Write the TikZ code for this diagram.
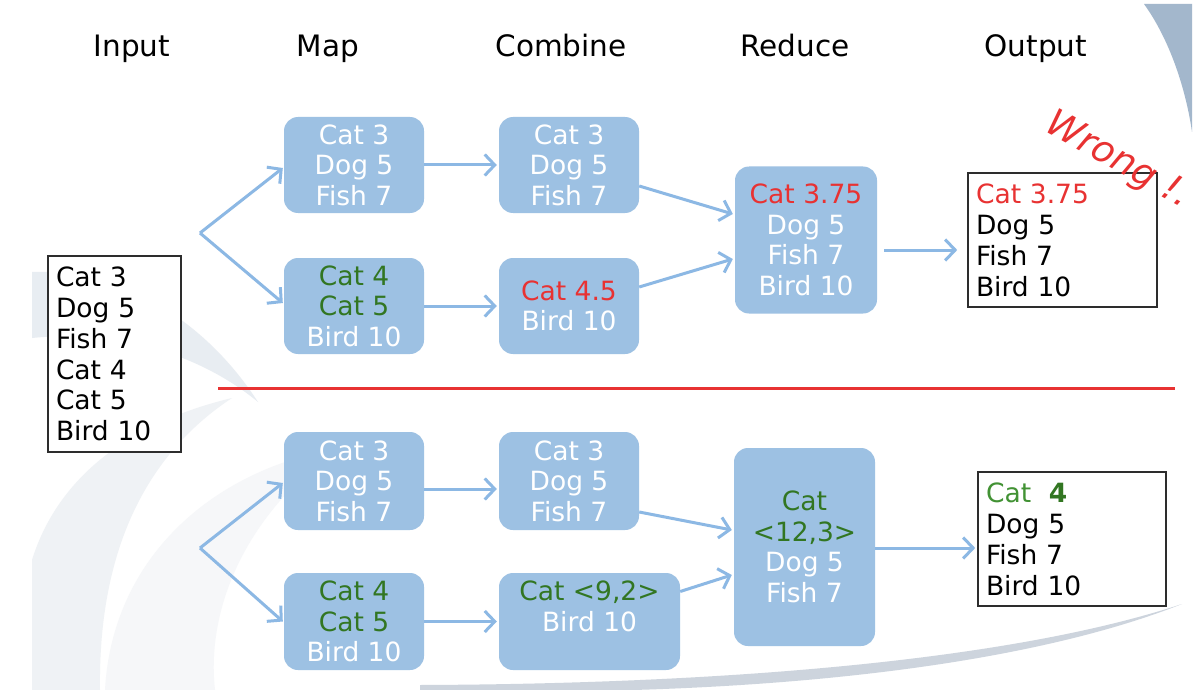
\documentclass[tikz,border=0pt]{standalone}
\usepackage{fontspec}
\setmainfont{DejaVu Sans}
\usetikzlibrary{arrows.meta,calc}
\definecolor{boxblue}{RGB}{157,193,227}
\definecolor{arrblue}{RGB}{140,184,228}
\definecolor{wred}{RGB}{232,50,50}
\definecolor{dgreen}{RGB}{50,118,34}
\definecolor{lgreen}{RGB}{66,146,52}
\definecolor{swA}{RGB}{232,237,242}
\definecolor{swB}{RGB}{239,242,245}
\definecolor{swC}{RGB}{246,247,249}
\definecolor{swD}{RGB}{205,212,221}
\definecolor{swTop}{RGB}{163,183,204}
\definecolor{frame}{RGB}{45,45,45}
\begin{document}
\begin{tikzpicture}[x=1pt,y=-1pt,
  bbox/.style={draw=none, fill=boxblue, rounded corners=14pt, text=white, align=center,
    inner sep=0pt, font=\fontsize{26.5}{30.5}\selectfont},
  wbox/.style={draw=frame, line width=1.6pt, fill=white, text=black, align=left,
    inner xsep=8pt, inner ysep=0pt, font=\fontsize{26.5}{31}\selectfont},
  hdr/.style={font=\fontsize{29.5}{34}\selectfont, anchor=base, inner sep=0pt},
  arr/.style={draw=arrblue, line width=3pt, -{Straight Barb[length=10pt,width=21pt]}},
  sep/.style={draw=wred, line width=3pt},
  wrong/.style={text=wred, font=\fontsize{37}{41}\selectfont\itshape, rotate=-29, inner sep=0pt}
]
\useasboundingbox (0,0) rectangle (1200,690);
\fill[white] (0,0) rectangle (1200,690);

% background swooshes
\fill[swTop] (1144,4) .. controls (1170,40) and (1186,90) .. (1192,132) -- (1192,4) -- cycle;
\fill[swA] (32,272) .. controls (120,268) and (205,320) .. (258,402) .. controls (195,350) and (110,330) .. (32,338) -- cycle;
\fill[swB] (32,690) -- (32,560) .. controls (60,470) and (140,420) .. (232,398) .. controls (150,452) and (98,545) .. (100,690) -- cycle;
\fill[swC] (105,690) .. controls (112,560) and (210,470) .. (340,448) .. controls (255,505) and (205,600) .. (215,690) -- cycle;
\fill[swD] (420,690) .. controls (700,698) and (1000,676) .. (1182,604) .. controls (1000,664) and (700,684) .. (420,685) -- cycle;

% headers
\node[hdr] (hIn)  at (132,57) {Input};
\node[hdr] (hMap) at (328,57) {Map};
\node[hdr] (hCom) at (561,57) {Combine};
\node[hdr] (hRed) at (795,57) {Reduce};
\node[hdr] (hOut) at (1036,57) {Output};

% input
\node[wbox, text width=117pt, minimum height=196pt, font=\fontsize{26.5}{30.8}\selectfont] (inp) at (114.5,354)
  {Cat 3\\Dog 5\\Fish 7\\Cat 4\\Cat 5\\Bird 10};

% top half
\node[bbox, minimum width=140pt, minimum height=96pt] (mapT1) at (354,165) {Cat 3\\Dog 5\\Fish 7};
\node[bbox, minimum width=140pt, minimum height=96pt] (mapT2) at (354,306)
  {\textcolor{dgreen}{Cat 4}\\\textcolor{dgreen}{Cat 5}\\Bird 10};
\node[bbox, minimum width=140pt, minimum height=96pt] (comT1) at (569,165) {Cat 3\\Dog 5\\Fish 7};
\node[bbox, minimum width=140pt, minimum height=96pt] (comT2) at (569,306)
  {\textcolor{wred}{Cat 4.5}\\Bird 10};
\node[bbox, minimum width=142pt, minimum height=147pt] (redT) at (806,240)
  {\textcolor{wred}{Cat 3.75}\\Dog 5\\Fish 7\\Bird 10};
\node[wbox, text width=173pt, minimum height=134pt] (outT) at (1062.5,240)
  {\textcolor{wred}{Cat 3.75}\\Dog 5\\Fish 7\\Bird 10};
\node[wrong] (wrong) at (1118,161) {Wrong !.};

% separator
\coordinate (sepL) at (218,388);
\coordinate (sepR) at (1175,388);
\draw[sep] (sepL) -- (sepR);

% bottom half
\node[bbox, minimum width=140pt, minimum height=98pt] (mapB1) at (354,481) {Cat 3\\Dog 5\\Fish 7};
\node[bbox, minimum width=140pt, minimum height=97pt] (mapB2) at (354,621.5)
  {\textcolor{dgreen}{Cat 4}\\\textcolor{dgreen}{Cat 5}\\Bird 10};
\node[bbox, minimum width=140pt, minimum height=98pt] (comB1) at (569,481) {Cat 3\\Dog 5\\Fish 7};
\node[bbox, minimum width=181pt, minimum height=97pt] (comB2) at (589.5,621.5)
  {\textcolor{dgreen}{Cat <9,2>}\\Bird 10\\\phantom{Bird}};
\node[bbox, minimum width=141pt, minimum height=198pt] (redB) at (804.5,547)
  {\textcolor{dgreen}{Cat}\\\textcolor{dgreen}{<12,3>}\\Dog 5\\Fish 7};
\node[wbox, text width=172pt, minimum height=134pt] (outB) at (1072,539)
  {\textcolor{lgreen}{Cat}\ \ \textcolor{dgreen}{\bfseries 4}\\Dog 5\\Fish 7\\Bird 10};

% connectors top
\coordinate (forkT) at (200,233);
\draw[arr] (forkT) -- ($(mapT1.west)+(-1,3)$);
\draw[arr] (forkT) -- ($(mapT2.west)+(-1,-3)$);
\draw[arr] (mapT1.east) -- ($(comT1.west)+(-2,0)$);
\draw[arr] (mapT2.east) -- ($(comT2.west)+(-2,0)$);
\draw[arr] ($(comT1.east)+(0,21)$) -- ($(redT.west)+(-2,-26)$);
\draw[arr] ($(comT2.east)+(0,-19)$) -- ($(redT.west)+(-2,19)$);
\draw[arr] ($(redT.east)+(7,10)$) -- ($(outT.west)+(-10,10)$);

% connectors bottom
\coordinate (forkB) at (200,548);
\draw[arr] (forkB) -- ($(mapB1.west)+(-1,2)$);
\draw[arr] (forkB) -- ($(mapB2.west)+(-1,0)$);
\draw[arr] ($(mapB1.east)+(0,8)$) -- ($(comB1.west)+(-2,8)$);
\draw[arr] (mapB2.east) -- ($(comB2.west)+(-2,0)$);
\draw[arr] ($(comB1.east)+(0,31)$) -- ($(redB.west)+(-2,-17)$);
\draw[arr] ($(comB2.east)+(0,-30)$) -- ($(redB.west)+(-2,28)$);
\draw[arr] ($(redB.east)+(0,1)$) -- ($(outB.west)+(-2,9)$);
\end{tikzpicture}
\end{document}
